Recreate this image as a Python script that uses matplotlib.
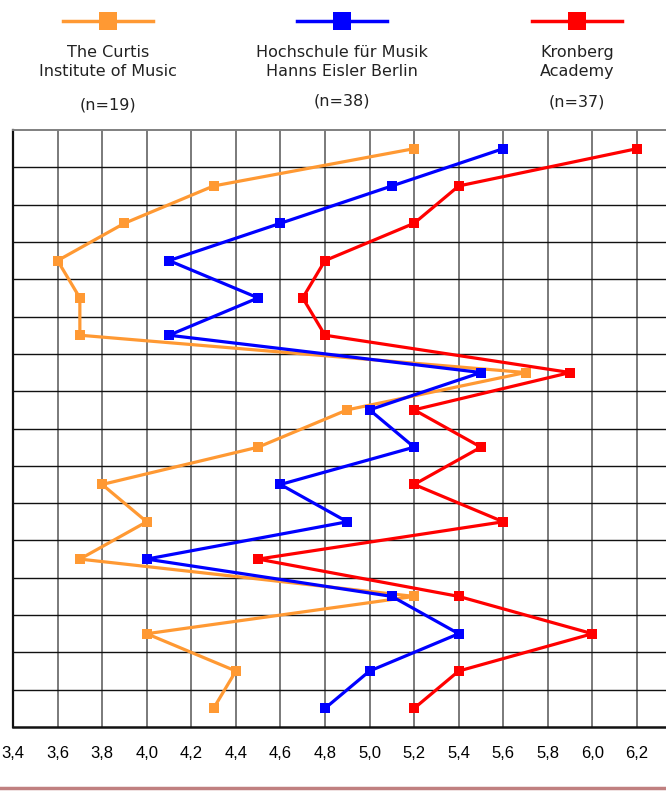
import matplotlib
matplotlib.use("Agg")
import matplotlib.pyplot as plt
import numpy as np
from matplotlib.lines import Line2D

# Werte je Item (von oben nach unten)
items = list(range(1, 17))
curtis = [5.2, 4.3, 3.9, 3.6, 3.7, 3.7, 5.7, 4.9, 4.5, 3.8, 4.0, 3.7, 5.2, 4.0, 4.4, 4.3]
hochschule = [5.6, 5.1, 4.6, 4.1, 4.5, 4.1, 5.5, 5.0, 5.2, 4.6, 4.9, 4.0, 5.1, 5.4, 5.0, 4.8]
kronberg = [6.2, 5.4, 5.2, 4.8, 4.7, 4.8, 5.9, 5.2, 5.5, 5.2, 5.6, 4.5, 5.4, 6.0, 5.4, 5.2]

gruppen = ["The Curtis\nInstitute of Music", "Hochschule für Musik\nHanns Eisler Berlin", "Kronberg\nAcademy"]
n_werte = ["(n=19)", "(n=38)", "(n=37)"]
farben = ["#FF9933", "#0000FF", "#FF0000"]

xticks = np.round(np.arange(3.4, 6.21, 0.2), 1)
xlabels = [f"{t:.1f}".replace(".", ",") for t in xticks]

plt.rcParams['font.family'] = ['DejaVu Sans']

fig = plt.figure(figsize=(6.66, 7.95), dpi=100)
ax = fig.add_axes([13 / 666, 1 - 727 / 795, 1 - 13 / 666, (727 - 130) / 795])

for werte, farbe in zip([curtis, hochschule, kronberg], farben):
    ax.plot(werte, items, color=farbe, lw=2.3, marker="s", ms=6.5,
            markeredgewidth=0, solid_joinstyle="miter", zorder=3)

ax.set_xlim(3.4, 3.4 + (666 - 13) / 44.57 * 0.2)
ax.set_ylim(16.5, 0.5)

# Gitter
for t in xticks:
    ax.axvline(t, color="#7a7a7a", lw=1.4, zorder=1)
for y in np.arange(1.5, 16.5, 1):
    ax.axhline(y, color="#111111", lw=1.0, zorder=1)

ax.set_xticks(xticks)
ax.set_xticklabels(xlabels, fontsize=12, family=['Liberation Sans', 'DejaVu Sans'])
ax.set_yticks([])
ax.tick_params(axis="x", length=0, pad=14)

ax.spines["right"].set_visible(False)
ax.spines["top"].set_color("#808080")
ax.spines["top"].set_linewidth(1.4)
ax.spines["left"].set_color("#111111")
ax.spines["left"].set_linewidth(1.6)
ax.spines["bottom"].set_color("#111111")
ax.spines["bottom"].set_linewidth(1.8)

# Legende oben, von Hand gesetzt
mitten = [108 / 666, 342 / 666, 577 / 666]
n_hoehe = [105, 101, 102]
for xm, name, n, farbe, ny in zip(mitten, gruppen, n_werte, farben, n_hoehe):
    fig.add_artist(Line2D([xm - 45 / 666, xm + 45 / 666], [1 - 21 / 795] * 2,
                          color=farbe, lw=2.5, transform=fig.transFigure))
    fig.add_artist(Line2D([xm], [1 - 21 / 795], color=farbe, marker="s", ms=12.5,
                          markeredgewidth=0, transform=fig.transFigure))
    fig.text(xm, 1 - 62 / 795, name, ha="center", va="center", fontsize=11.5,
             linespacing=1.35, color="#222222")
    fig.text(xm, 1 - ny / 795, n, ha="center", va="center", fontsize=11.5,
             color="#222222")

# Linie am unteren Rand
fig.add_artist(Line2D([0, 1], [1 - 788 / 795] * 2, color="#C08080", lw=2.5,
                      transform=fig.transFigure))

fig.savefig("out.png", dpi=100)
